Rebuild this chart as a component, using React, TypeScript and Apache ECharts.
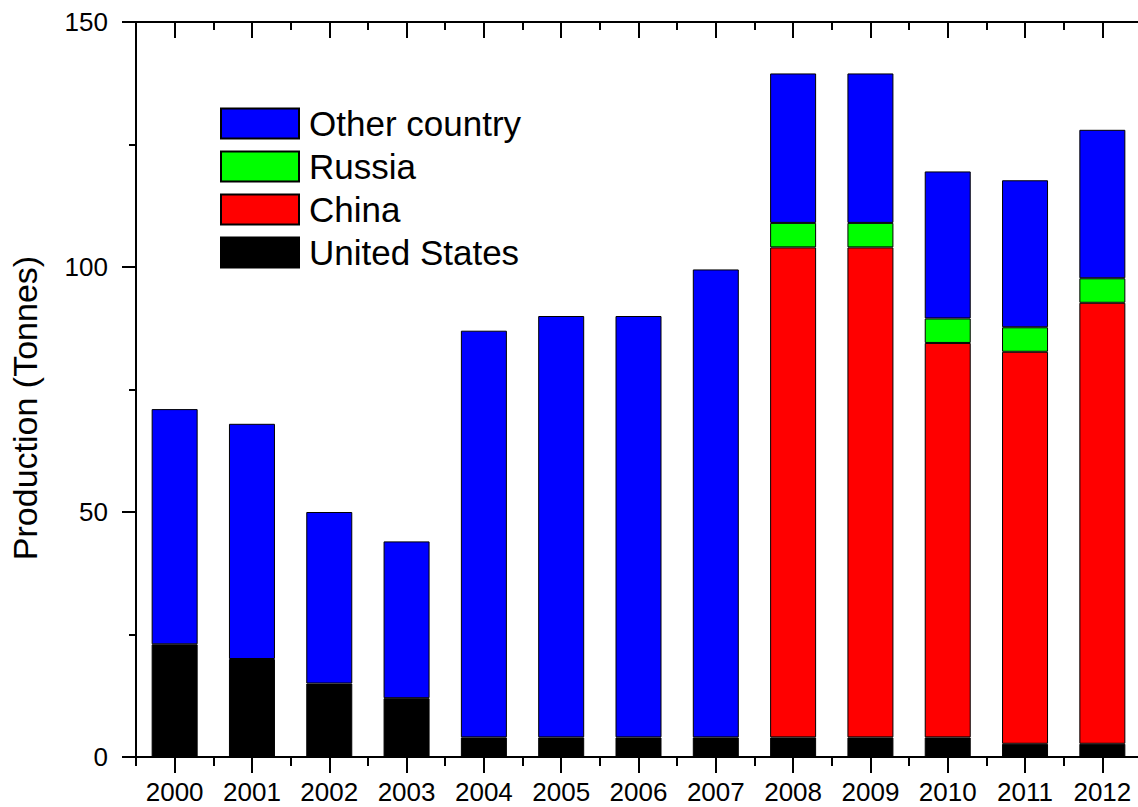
import React, { useEffect, useRef } from "react";
import * as echarts from "echarts";

const years = ["2000", "2001", "2002", "2003", "2004", "2005", "2006", "2007", "2008", "2009", "2010", "2011", "2012"];
const unitedStates = [23, 20, 15, 12, 4, 4, 4, 4, 4, 4, 4, 2.7, 2.7];
const china = [null, null, null, null, null, null, null, null, 100, 100, 80.5, 80, 90];
const russia = [null, null, null, null, null, null, null, null, 5, 5, 5, 5, 5];
const otherCountry = [48, 48, 35, 32, 83, 86, 86, 95.5, 30.5, 30.5, 30, 30, 30.3];
const yTicks = { min: 0, max: 150, interval: 50 };

const FONT = "'Liberation Sans', Arial, sans-serif";

export default function App() {
  const ref = useRef<HTMLDivElement>(null);
  useEffect(() => {
    if (!ref.current) return;
    const chart = echarts.init(ref.current, null, { renderer: "svg" });
    const line = { show: true, lineStyle: { color: "#000", width: 2 } };
    const mk = (name: string, data: any[], color: string) => ({
      name,
      type: "bar",
      stack: "total",
      data,
      barWidth: 46,
      xAxisIndex: 0,
      itemStyle: { color, borderColor: "#000", borderWidth: 1 },
    });
    chart.setOption({
      animation: false,
      backgroundColor: "#fff",
      textStyle: { fontFamily: FONT },
      grid: { left: 136, top: 22, width: 1005, height: 735, containLabel: false },
      legend: {
        orient: "vertical",
        left: 215,
        top: 101,
        itemWidth: 78,
        itemHeight: 30,
        itemGap: 8,
        icon: "rect",
        data: ["Other country", "Russia", "China", "United States"],
        textStyle: { fontSize: 35, fontFamily: FONT, color: "#000", lineHeight: 30, padding: [0, 0, 0, 5] },
      },
      xAxis: [
        {
          type: "category",
          position: "bottom",
          data: years,
          axisLine: line,
          axisTick: { show: true, alignWithLabel: true, length: 16, lineStyle: { color: "#000", width: 2 } },
          axisLabel: { fontSize: 26, color: "#000", margin: 22, fontFamily: FONT, interval: 0 },
          splitLine: { show: false },
        },
        {
          type: "category",
          position: "bottom",
          data: years,
          axisLine: { show: false },
          axisTick: { show: true, alignWithLabel: false, length: 9, interval: 0, lineStyle: { color: "#000", width: 2 } },
          axisLabel: { show: false },
          splitLine: { show: false },
        },
        {
          type: "category",
          position: "top",
          data: years,
          axisLine: line,
          axisTick: { show: true, inside: true, alignWithLabel: true, length: 16, lineStyle: { color: "#000", width: 2 } },
          axisLabel: { show: false },
          splitLine: { show: false },
        },
        {
          type: "category",
          position: "top",
          data: years,
          axisLine: { show: false },
          axisTick: { show: true, inside: true, alignWithLabel: false, length: 8, interval: 0, lineStyle: { color: "#000", width: 2 } },
          axisLabel: { show: false },
          splitLine: { show: false },
        },
      ],
      yAxis: {
        type: "value",
        min: yTicks.min,
        max: yTicks.max,
        interval: yTicks.interval,
        axisLine: line,
        axisTick: { show: true, length: 14, lineStyle: { color: "#000", width: 2 } },
        minorTick: { show: true, splitNumber: 2, length: 7, lineStyle: { color: "#000", width: 2 } },
        splitLine: { show: false },
        minorSplitLine: { show: false },
        axisLabel: { fontSize: 26, color: "#000", margin: 28, fontFamily: FONT },
      },
      graphic: [
        {
          type: "text",
          x: 25,
          y: 408,
          rotation: Math.PI / 2,
          style: {
            text: "Production (Tonnes)",
            fontSize: 34,
            fontFamily: FONT,
            fill: "#000",
            textAlign: "center",
            textVerticalAlign: "middle",
          },
        },
      ],
      series: [
        mk("United States", unitedStates, "#000000"),
        mk("China", china, "#ff0000"),
        mk("Russia", russia, "#00ff00"),
        mk("Other country", otherCountry, "#0000ff"),
      ],
    });
    return () => chart.dispose();
  }, []);
  return (
    <div style={{ position: "fixed", left: 0, top: 0, width: 1138, height: 807, overflow: "hidden", background: "#fff" }}>
      <div ref={ref} style={{ width: 1160, height: 807 }} />
    </div>
  );
}
